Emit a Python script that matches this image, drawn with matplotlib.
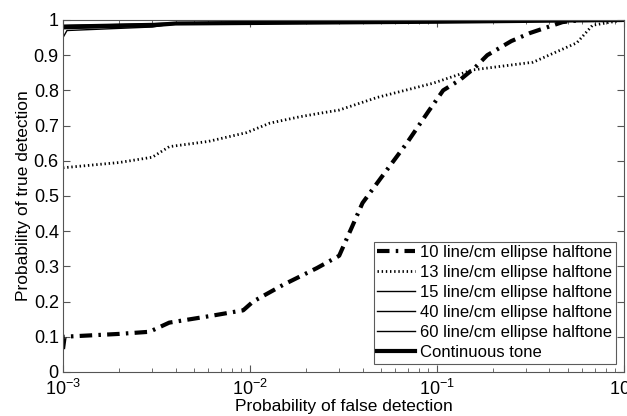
import numpy as np
import matplotlib.pyplot as plt

plt.rcParams['font.family'] = ['Liberation Sans', 'DejaVu Sans']

# false detection probability (x) and true detection probability (y) per curve
x10 = [1e-3, 1.02e-3, 2.0e-3, 2.9e-3, 3.7e-3, 6e-3, 9.2e-3, 0.0104, 0.015, 0.0228, 0.030,
       0.035, 0.040, 0.05, 0.069, 0.09, 0.108, 0.133, 0.16, 0.186, 0.25, 0.315, 0.47, 0.6, 1.0]
y10 = [0.065, 0.10, 0.108, 0.114, 0.14, 0.158, 0.175, 0.20, 0.247, 0.295, 0.33,
       0.41, 0.48, 0.55, 0.65, 0.74, 0.80, 0.83, 0.865, 0.90, 0.94, 0.963, 0.994, 1.0, 1.0]

x13 = [1e-3, 2.0e-3, 3.0e-3, 3.7e-3, 6e-3, 9.6e-3, 0.0128, 0.0185, 0.0237, 0.030, 0.048,
       0.095, 0.155, 0.327, 0.56, 0.68, 1.0]
y13 = [0.58, 0.595, 0.61, 0.64, 0.655, 0.68, 0.707, 0.725, 0.735, 0.744, 0.78,
       0.82, 0.858, 0.88, 0.935, 0.985, 1.0]

x15 = [1e-3, 1.05e-3, 3e-3, 4e-3, 0.1, 1.0]
y15 = [0.95, 0.97, 0.98, 0.99, 0.995, 1.0]
x40 = [1e-3, 3e-3, 5e-3, 1.0]
y40 = [0.975, 0.985, 0.99, 1.0]
x60 = [1e-3, 3e-3, 0.01, 1.0]
y60 = [0.985, 0.99, 0.995, 1.0]
xct = [1e-3, 3e-3, 4e-3, 0.1, 1.0]
yct = [0.98, 0.985, 0.99, 0.995, 1.0]

fig = plt.figure(figsize=(6.27, 4.16), dpi=100)
ax = fig.add_axes([0.1005, 0.106, 0.8945, 0.846])

ax.plot(x10, y10, color='black', lw=3, linestyle=(0, (3, 1.5, 0.6, 1.5)), label='10 line/cm ellipse halftone')
ax.plot(x13, y13, color='black', lw=2, linestyle=(0, (0.5, 1.0)), label='13 line/cm ellipse halftone')
ax.plot(x15, y15, color='black', lw=1, label='15 line/cm ellipse halftone')
ax.plot(x40, y40, color='black', lw=1, label='40 line/cm ellipse halftone')
ax.plot(x60, y60, color='black', lw=1, label='60 line/cm ellipse halftone')
ax.plot(xct, yct, color='black', lw=3, label='Continuous tone')

ax.set_xscale('log')
ax.set_xlim(1e-3, 1)
ax.set_ylim(0, 1)
ax.set_yticks(np.arange(0, 1.01, 0.1))
ax.set_yticklabels(['0', '0.1', '0.2', '0.3', '0.4', '0.5', '0.6', '0.7', '0.8', '0.9', '1'])
ax.tick_params(which='both', direction='in', top=True, right=True, labelsize=13, color='#555555')
ax.tick_params(which='major', length=5)
ax.tick_params(which='minor', length=3)
ax.tick_params(axis='y', pad=3)
ax.tick_params(axis='x', pad=5)
for s in ax.spines.values():
    s.set_color('#555555')

ax.set_xlabel('Probability of false detection', fontsize=12.5, labelpad=0)
ax.set_ylabel('Probability of true detection', fontsize=12.5, labelpad=2)

leg = ax.legend(loc='lower right', fontsize=12, frameon=True, fancybox=False, edgecolor='#333333',
                handlelength=2.3, handletextpad=0.3, labelspacing=0.3, borderpad=0.2,
                borderaxespad=0.5)
leg.get_frame().set_linewidth(0.8)

fig.savefig('out.png', dpi=100)
